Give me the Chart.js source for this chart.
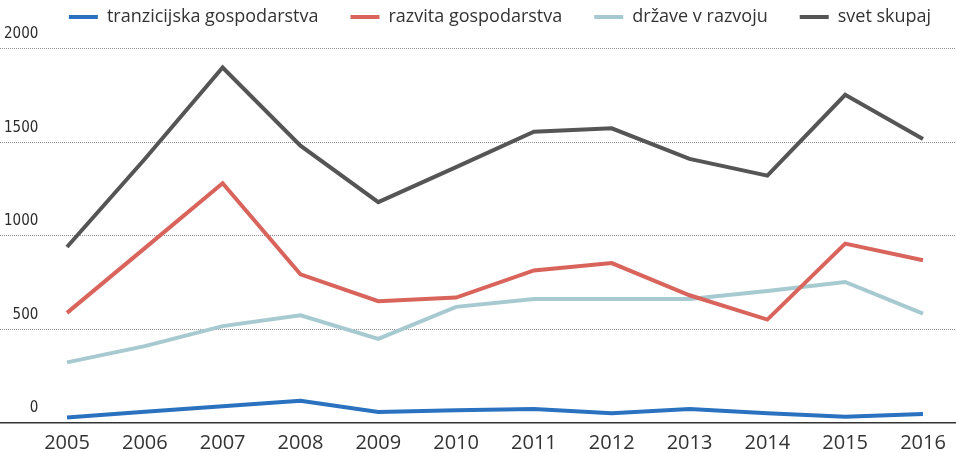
<!DOCTYPE html>
<html>
<head>
<meta charset="utf-8">
<script src="https://cdn.jsdelivr.net/npm/chart.js@4.4.1/dist/chart.umd.min.js"></script>
<style>
html,body{margin:0;padding:0;background:#fff;}
#wrap{width:956px;height:452px;position:relative;}
</style>
</head>
<body>
<div id="wrap"><canvas id="c" width="956" height="452"></canvas></div>
<script>
const years = [2005, 2006, 2007, 2008, 2009, 2010, 2011, 2012, 2013, 2014, 2015, 2016];
const tranzicijska = [30, 60, 90, 119, 59, 68, 75, 52, 75, 52, 34, 48];
const razvita = [589, 935, 1282, 795, 651, 671, 816, 855, 683, 553, 959, 870];
const drzave = [324, 411, 518, 576, 450, 621, 663, 663, 663, 706, 754, 585];
const svet = [941, 1412, 1901, 1483, 1181, 1368, 1558, 1576, 1412, 1323, 1755, 1519];
const yTicks = [0, 500, 1000, 1500, 2000];
const seriesNames = ['tranzicijska gospodarstva', 'razvita gospodarstva', 'države v razvoju', 'svet skupaj'];
const seriesColors = ['#2a72bf', '#d8645c', '#a6cad0', '#555555'];

const Y_MAX = 2069.5;
const X_MIN = 2004.139;
const X_MAX = 2016.424;
const LEGEND_SHIFT = 26;

function pts(vals) { return years.map((y, i) => ({x: y, y: vals[i]})); }

const seriesVals = [tranzicijska, razvita, drzave, svet];
const datasets = seriesVals.map((v, i) => ({
  label: seriesNames[i],
  data: pts(v),
  borderColor: seriesColors[i],
  backgroundColor: seriesColors[i],
  borderWidth: 4,
  pointRadius: 0,
  tension: 0,
  fill: false
}));

new Chart(document.getElementById('c'), {
  type: 'line',
  data: { datasets },
  options: {
    responsive: false,
    animation: false,
    layout: { padding: { left: -8, top: -24, bottom: -11, right: 0 } },
    plugins: {
      tooltip: { enabled: false },
      legend: {
        position: 'top',
        labels: {
          font: { family: "'Open Sans', sans-serif", size: 18 },
          color: '#333333',
          boxWidth: 29,
          boxHeight: 4,
          padding: 32,
          generateLabels(chart) {
            const items = Chart.defaults.plugins.legend.labels.generateLabels(chart);
            return items.map(it => Object.assign(it, { lineWidth: 0, fillStyle: it.strokeStyle }));
          }
        }
      }
    },
    scales: {
      x: {
        type: 'linear',
        min: X_MIN,
        max: X_MAX,
        grid: { display: false, drawTicks: false },
        border: { display: true, color: '#333333', width: 1.5 },
        afterBuildTicks(axis) { axis.ticks = years.map(v => ({ value: v })); },
        ticks: {
          autoSkip: false,
          maxRotation: 0,
          padding: 8,
          color: '#333333',
          font: { family: "'Open Sans', sans-serif", size: 20 },
          callback: v => String(v)
        }
      },
      y: {
        min: 0,
        max: Y_MAX,
        afterBuildTicks(axis) { axis.ticks = yTicks.map(v => ({ value: v })); },
        grid: {
          color: (ctx) => ctx.tick && ctx.tick.value === 0 ? 'rgba(0,0,0,0)' : '#8f8f8f',
          lineWidth: 1,
          drawTicks: false
        },
        border: { display: false, dash: [1, 1] },
        ticks: {
          mirror: true,
          crossAlign: 'far',
          padding: 4,
          labelOffset: -14.5,
          color: '#2b2b2b',
          font: { family: "'Liberation Sans Narrow', 'DejaVu Sans Condensed', sans-serif", size: 15 },
          callback: v => String(v)
        }
      }
    }
  },
  plugins: [{
    id: 'legendShift',
    afterLayout(chart) {
      if (chart.legend) { chart.legend.left += LEGEND_SHIFT; chart.legend.right += LEGEND_SHIFT; }
    }
  }]
});
</script>
</body>
</html>
